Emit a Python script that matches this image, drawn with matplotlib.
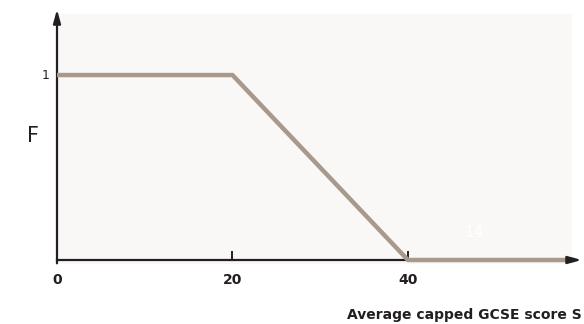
import numpy as np
import matplotlib.pyplot as plt

# piecewise F(S)
score = [0, 20, 40, 59]
factor = [1, 1, 0, 0]
xticks = [0, 20, 40]
xtick_labels = ["0", "20", "40"]

line_col = "#a8998a"
axis_col = "#231f20"

fig = plt.figure(figsize=(5.84, 3.24), dpi=100)
ax = fig.add_axes([57/584, 60/324, 515/584, 250/324])
ax.set_facecolor("#f9f8f6")
ax.set_xlim(0, 58.7)
ax.set_ylim(-0.0216, 1.33)
for s in ax.spines.values():
    s.set_visible(False)
ax.set_xticks([])
ax.set_yticks([])

# axes with arrows
ax.annotate("", xy=(0, 1.355), xytext=(0, -0.018), annotation_clip=False,
            arrowprops=dict(arrowstyle="-|>,head_length=0.8,head_width=0.22",
                            color=axis_col, lw=1.6, shrinkA=0, shrinkB=0))
ax.plot([0, 58.5], [0, 0], color=axis_col, lw=1.6, clip_on=False, zorder=2)

ax.plot(score, factor, color=line_col, lw=3.2, clip_on=False, zorder=3,
        solid_capstyle="butt")
ax.annotate("", xy=(59.8, 0), xytext=(58.4, 0), annotation_clip=False,
            arrowprops=dict(arrowstyle="-|>,head_length=0.8,head_width=0.22",
                            color=axis_col, lw=1.6, shrinkA=0, shrinkB=0))

# tick marks
for t in xticks[1:]:
    ax.plot([t, t], [0, 0.045], color=axis_col, lw=1.4, clip_on=False, zorder=2)

for t, lab in zip(xticks, xtick_labels):
    ax.text(t, -0.11, lab, ha="center", va="center", fontsize=10,
            fontweight="bold", color=axis_col, family="DejaVu Sans")

ax.text(-0.8, 1, "1", ha="right", va="center", fontsize=9, color=axis_col)
ax.text(-2.1, 0.67, "F", ha="right", va="center", fontsize=15, color=axis_col)
ax.text(59.8, -0.3, "Average capped GCSE score S", ha="right", va="center",
        fontsize=10, fontweight="bold", color=axis_col, clip_on=False)
ax.text(47.5, 0.15, "14", ha="center", va="center", fontsize=11, color="white")

fig.savefig("out.png", dpi=100)
